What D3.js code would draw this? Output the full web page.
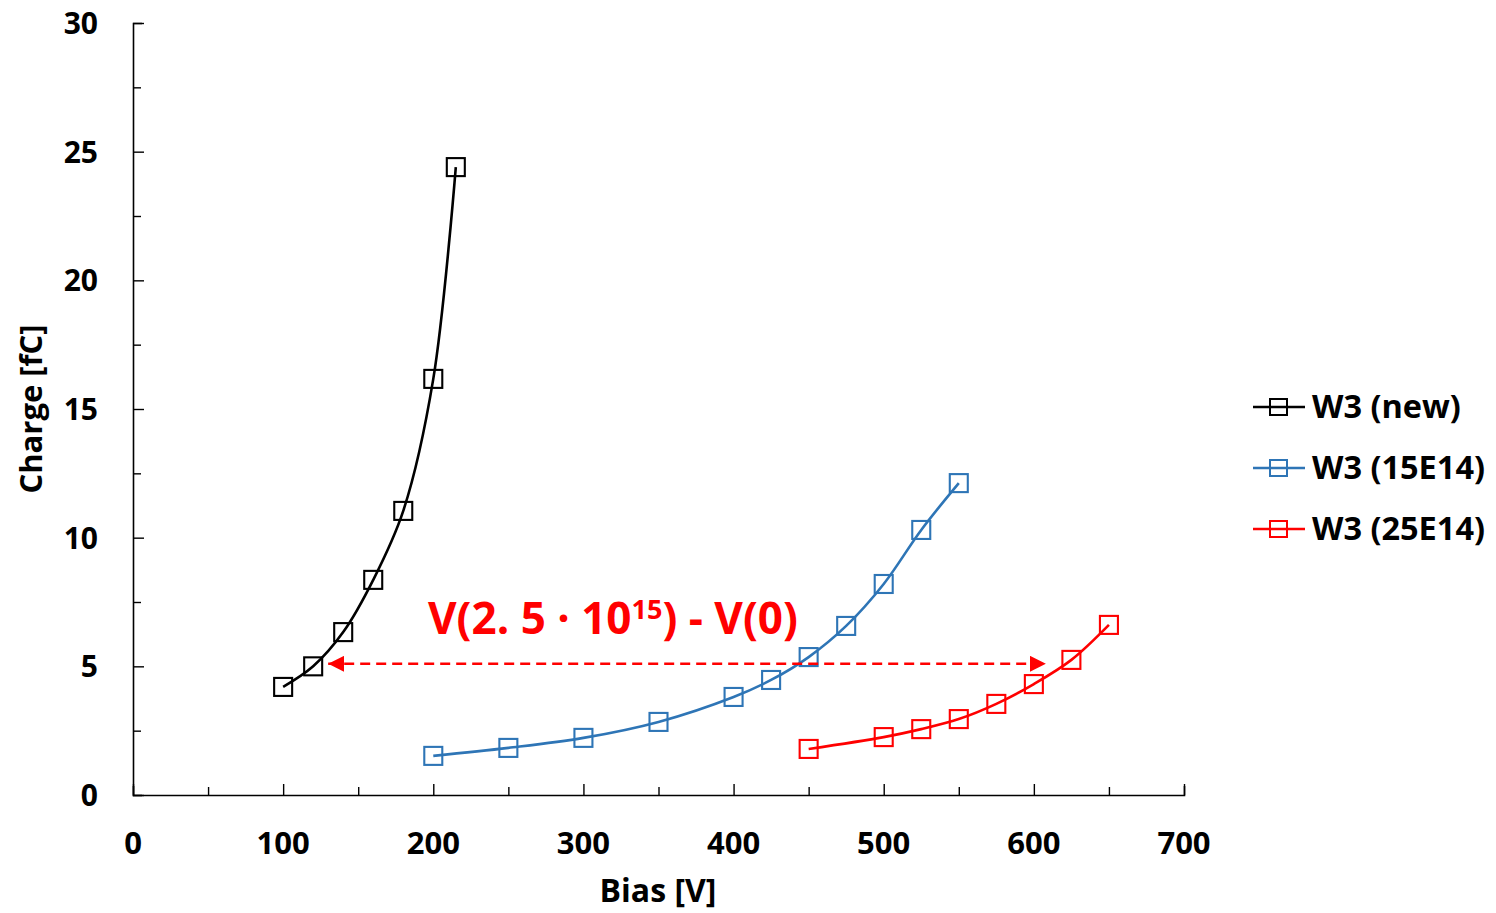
<!DOCTYPE html>
<html>
<head>
<meta charset="utf-8">
<script src="https://cdn.jsdelivr.net/npm/d3@7"></script>
<style>
	body { margin: 0; background: #fff; }
	svg { display: block; }
	text { font-family: "Open Sans", sans-serif; font-weight: 700; fill: #000; }
</style>
</head>
<body>
<svg id="chart" width="1496" height="913"></svg>
<script>
'use strict';

// data
const newBias = [100, 120, 140, 160, 180, 200, 215];
const newCharge = [4.2, 5.0, 6.33, 8.36, 11.04, 16.17, 24.4];

const e15Bias = [200, 250, 300, 350, 400, 425, 450, 475, 500, 525, 550];
const e15Charge = [1.52, 1.83, 2.22, 2.84, 3.81, 4.47, 5.36, 6.57, 8.2, 10.3, 12.12];

const e25Bias = [450, 500, 525, 550, 575, 600, 625, 650];
const e25Charge = [1.79, 2.25, 2.56, 2.95, 3.54, 4.31, 5.25, 6.61];

const seriesNames = ["W3 (new)", "W3 (15E14)", "W3 (25E14)"];
const seriesColors = ["#000000", "#2e75b6", "#ff0000"];

const xTicks = [0, 100, 200, 300, 400, 500, 600, 700];
const yTicks = [0, 5, 10, 15, 20, 25, 30];

// arrow between the two V(Q=5fC) points
const arrowFrom = 130, arrowTo = 608, arrowCharge = 5.1;

const series = [
	{name: seriesNames[0], color: seriesColors[0], pts: newBias.map((b, i) => ({x: b, y: newCharge[i]}))},
	{name: seriesNames[1], color: seriesColors[1], pts: e15Bias.map((b, i) => ({x: b, y: e15Charge[i]}))},
	{name: seriesNames[2], color: seriesColors[2], pts: e25Bias.map((b, i) => ({x: b, y: e25Charge[i]}))}
];

const svg = d3.select("#chart");

const x = d3.scaleLinear().domain([0, 700]).range([133, 1184]);
const y = d3.scaleLinear().domain([0, 30]).range([795, 23]);

// axes
const xAxis = svg.append("g")
	.attr("transform", "translate(0," + y(0) + ")")
	.call(d3.axisBottom(x).tickValues(d3.range(0, 701, 50)).tickSize(-9).tickFormat(""));
const yAxis = svg.append("g")
	.attr("transform", "translate(" + x(0) + ",0)")
	.call(d3.axisLeft(y).tickValues(d3.range(0, 30.1, 2.5)).tickSize(-9).tickFormat(""));
[xAxis, yAxis].forEach(a => {
	a.select(".domain").attr("stroke", "#000").attr("stroke-width", 1.6);
	a.selectAll(".tick line").attr("stroke", "#000").attr("stroke-width", 1.4);
});
// major ticks a little longer
xAxis.selectAll(".tick line").attr("y2", d => d % 100 === 0 ? -11 : -8);
yAxis.selectAll(".tick line").attr("x2", d => d % 5 === 0 ? 11 : 8);

svg.append("g").selectAll("text")
	.data(xTicks)
	.enter().append("text")
	.attr("x", d => x(d))
	.attr("y", 854)
	.attr("text-anchor", "middle")
	.style("font-size", "31px")
	.text(d => d);

svg.append("g").selectAll("text")
	.data(yTicks)
	.enter().append("text")
	.attr("x", 98)
	.attr("y", d => y(d) + 11)
	.attr("text-anchor", "end")
	.style("font-size", "30px")
	.text(d => d);

svg.append("text")
	.attr("x", 658)
	.attr("y", 902)
	.attr("text-anchor", "middle")
	.style("font-size", "32px")
	.text("Bias [V]");

svg.append("text")
	.attr("transform", "translate(42,409) rotate(-90)")
	.attr("text-anchor", "middle")
	.style("font-size", "31px")
	.text("Charge [fC]");

// series
const line = d3.line()
	.x(d => x(d.x))
	.y(d => y(d.y))
	.curve(d3.curveCatmullRom.alpha(0.5));

const gs = svg.append("g").selectAll("g")
	.data(series)
	.enter().append("g");

gs.append("path")
	.attr("d", d => line(d.pts))
	.attr("fill", "none")
	.attr("stroke", d => d.color)
	.attr("stroke-width", 2.6);

gs.each(function(s) {
	d3.select(this).selectAll("rect")
		.data(s.pts)
		.enter().append("rect")
		.attr("x", d => x(d.x) - 9)
		.attr("y", d => y(d.y) - 9)
		.attr("width", 18)
		.attr("height", 18)
		.attr("fill", "none")
		.attr("stroke", s.color)
		.attr("stroke-width", 2.1);
});

// arrow annotation
const defs = svg.append("defs");
defs.append("marker")
	.attr("id", "arrowhead")
	.attr("viewBox", "0 0 10 10")
	.attr("refX", 10).attr("refY", 5)
	.attr("markerUnits", "userSpaceOnUse")
	.attr("markerWidth", 16).attr("markerHeight", 16)
	.attr("orient", "auto-start-reverse")
	.append("path")
	.attr("d", "M0,0 L10,5 L0,10 Z")
	.attr("fill", "#ff0000");

svg.append("line")
	.attr("x1", x(arrowFrom)).attr("x2", x(arrowTo))
	.attr("y1", y(arrowCharge)).attr("y2", y(arrowCharge))
	.attr("stroke", "#ff0000")
	.attr("stroke-width", 2.6)
	.attr("stroke-dasharray", "10,6")
	.attr("marker-start", "url(#arrowhead)")
	.attr("marker-end", "url(#arrowhead)");

const note = svg.append("text")
	.attr("x", 428)
	.attr("y", 634)
	.style("font-size", "44px")
	.style("fill", "#ff0000");
note.append("tspan").text("V(2. 5 \u00b7 10");
note.append("tspan").attr("dy", -15).style("font-size", "27px").text("15");
note.append("tspan").attr("dy", 15).text(") - V(0)");

// legend
const legend = svg.append("g").selectAll("g")
	.data(series)
	.enter().append("g")
	.attr("transform", (d, i) => "translate(1253," + (407 + i * 61) + ")");
legend.append("line")
	.attr("x1", 0).attr("x2", 52)
	.attr("stroke", d => d.color)
	.attr("stroke-width", 2.6);
legend.append("rect")
	.attr("x", 17).attr("y", -8)
	.attr("width", 17).attr("height", 16)
	.attr("fill", "none")
	.attr("stroke", d => d.color)
	.attr("stroke-width", 2);
legend.append("text")
	.attr("x", 59)
	.attr("y", 11)
	.style("font-size", "32.5px")
	.text(d => d.name);
</script>
</body>
</html>
